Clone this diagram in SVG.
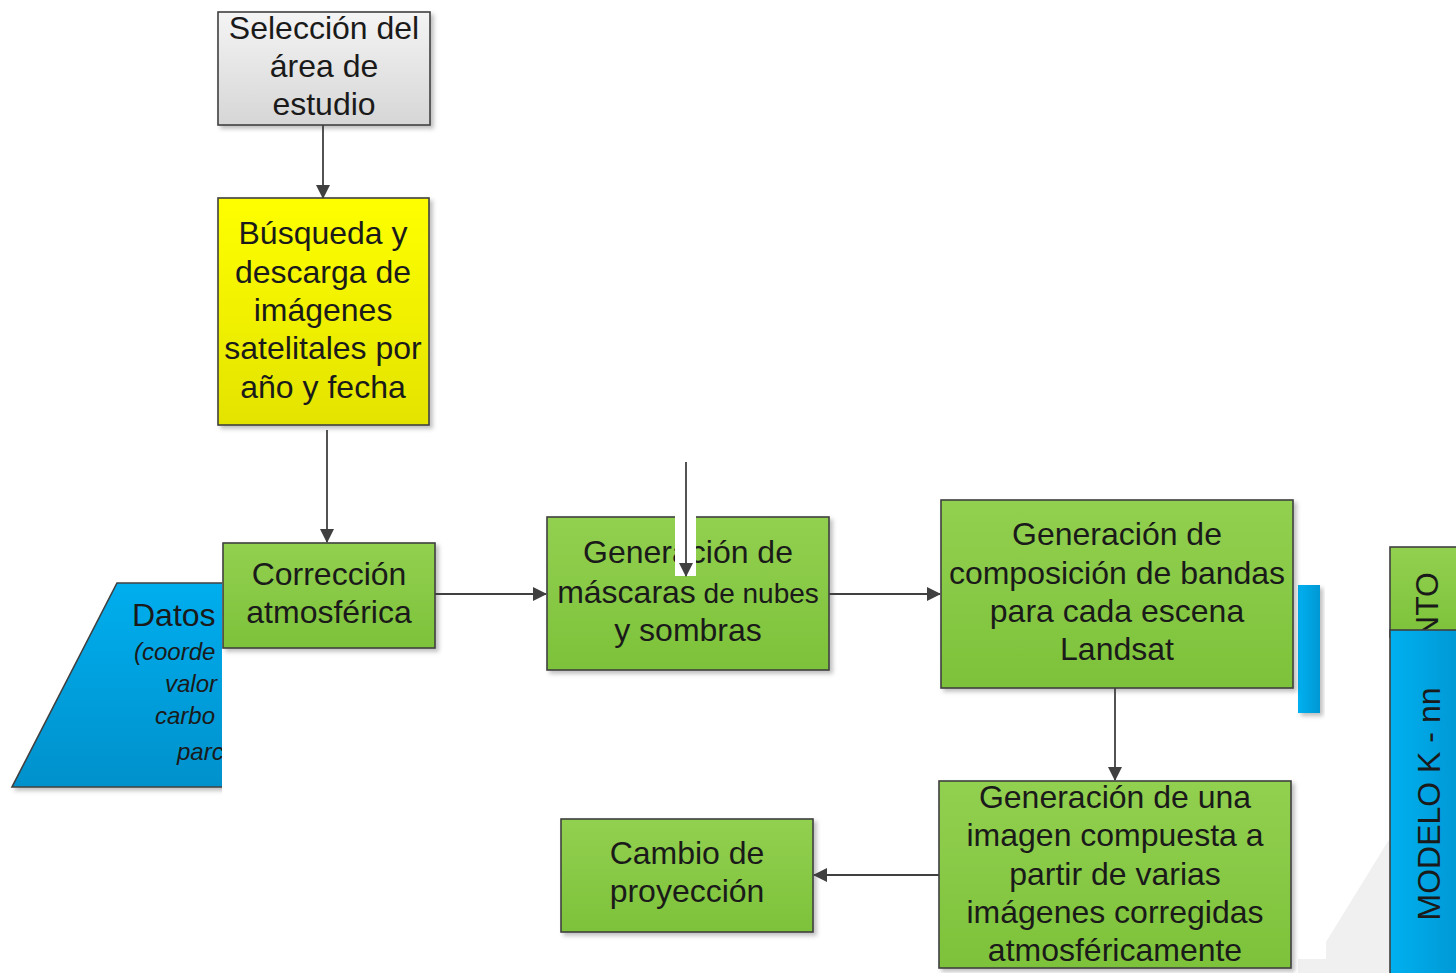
<svg xmlns="http://www.w3.org/2000/svg" width="1456" height="973" viewBox="0 0 1456 973">
<style>
.t{font-family:"Liberation Sans",Arial,sans-serif;font-size:32px;fill:#1a1a1a;text-anchor:middle}
.ti{font-family:"Liberation Sans",Arial,sans-serif;font-size:24px;font-style:italic;fill:#1a1a1a}
.b{stroke:#404040;stroke-width:1.6}
.c{stroke:#404040;stroke-width:1.8;fill:none;marker-end:url(#ah)}
</style>
<defs>
<linearGradient id="gG" x1="0" y1="0" x2="0" y2="1"><stop offset="0" stop-color="#92d050"/><stop offset="1" stop-color="#7dc23a"/></linearGradient>
<linearGradient id="gY" x1="0" y1="0" x2="0" y2="1"><stop offset="0" stop-color="#ffff00"/><stop offset="1" stop-color="#e3e300"/></linearGradient>
<linearGradient id="gS" x1="0" y1="0" x2="0" y2="1"><stop offset="0" stop-color="#f4f4f4"/><stop offset="1" stop-color="#d6d6d6"/></linearGradient>
<linearGradient id="gB" x1="0" y1="0" x2="0" y2="1"><stop offset="0" stop-color="#00aeee"/><stop offset="1" stop-color="#0091cc"/></linearGradient>
<linearGradient id="gBh" x1="0" y1="0" x2="1" y2="0"><stop offset="0" stop-color="#00b0f0"/><stop offset="1" stop-color="#0098d4"/></linearGradient>
<filter id="sh" x="-10%" y="-10%" width="130%" height="130%"><feDropShadow dx="3" dy="3" stdDeviation="2" flood-color="#000" flood-opacity="0.25"/></filter>
<marker id="ah" markerUnits="userSpaceOnUse" markerWidth="14" markerHeight="14" refX="13" refY="7" orient="auto"><path d="M0,0 L14,7 L0,14 z" fill="#404040"/></marker>
<clipPath id="cD"><rect x="0" y="560" width="222" height="240"/></clipPath>
</defs>
<rect width="1456" height="973" fill="#fff"/>
<polygon points="1390,838 1390,973 1298,973 1298,959 1326,959 1326,942" fill="#f0f0f0"/>
<g id="datos" clip-path="url(#cD)">
<polygon points="117,583 240,583 240,787 12,787" fill="url(#gB)" class="b" filter="url(#sh)"/>
<text x="132" y="626" class="t" style="text-anchor:start">Datos</text>
<text x="134" y="660" class="ti">(coorde</text>
<text x="165" y="692" class="ti">valor</text>
<text x="155" y="724" class="ti">carbo</text>
<text x="177" y="760" class="ti">parc</text>
</g>
<g id="seleccion">
<rect x="218" y="12" width="212" height="113" fill="url(#gS)" class="b" filter="url(#sh)"/>
<text class="t" x="324" y="39">Selección del</text>
<text class="t" x="324" y="77">área de</text>
<text class="t" x="324" y="115">estudio</text>
</g>
<g id="busqueda">
<rect x="218" y="198" width="211" height="227" fill="url(#gY)" class="b" filter="url(#sh)"/>
<text class="t" x="323" y="244">Búsqueda y</text>
<text class="t" x="323" y="283">descarga de</text>
<text class="t" x="323" y="321">imágenes</text>
<text class="t" x="323" y="359">satelitales por</text>
<text class="t" x="323" y="398">año y fecha</text>
</g>
<g id="correccion">
<rect x="223" y="543" width="212" height="105" fill="url(#gG)" class="b" filter="url(#sh)"/>
<text class="t" x="329" y="585">Corrección</text>
<text class="t" x="329" y="623">atmosférica</text>
</g>
<g id="mascaras">
<rect x="547" y="517" width="282" height="153" fill="url(#gG)" class="b" filter="url(#sh)"/>
<text class="t" x="688" y="563">Generación de</text>
<text class="t" x="688" y="603">máscaras<tspan style="font-size:28px"> de nubes</tspan></text>
<text class="t" x="688" y="641">y sombras</text>
<rect x="675" y="514" width="21" height="62" fill="#fff"/>
</g>
<g id="blue-mid">
<rect x="1298" y="585" width="22" height="128" fill="url(#gBh)" filter="url(#sh)"/>
</g>
<g id="composicion">
<rect x="941" y="500" width="352" height="188" fill="url(#gG)" class="b" filter="url(#sh)"/>
<text class="t" x="1117" y="545">Generación de</text>
<text class="t" x="1117" y="584">composición de bandas</text>
<text class="t" x="1117" y="622">para cada escena</text>
<text class="t" x="1117" y="660">Landsat</text>
</g>
<g id="compuesta">
<rect x="939" y="781" width="352" height="187" fill="url(#gG)" class="b" filter="url(#sh)"/>
<text class="t" x="1115" y="808">Generación de una</text>
<text class="t" x="1115" y="846">imagen compuesta a</text>
<text class="t" x="1115" y="885">partir de varias</text>
<text class="t" x="1115" y="923">imágenes corregidas</text>
<text class="t" x="1115" y="961">atmosféricamente</text>
</g>
<g id="cambio">
<rect x="561" y="819" width="252" height="113" fill="url(#gG)" class="b" filter="url(#sh)"/>
<text class="t" x="687" y="864">Cambio de</text>
<text class="t" x="687" y="902">proyección</text>
</g>
<g id="entrenamiento">
<rect x="1390" y="547" width="70" height="90" fill="url(#gG)" class="b"/>
<text class="t" style="text-anchor:end" transform="translate(1438,572) rotate(-90)">NTO</text>
</g>
<g id="modelo">
<rect x="1390" y="630" width="70" height="350" fill="url(#gBh)" class="b"/>
<text class="t" transform="translate(1440,804) rotate(-90)">MODELO K - nn</text>
</g>
<g id="connectors">
<line class="c" x1="323" y1="125" x2="323" y2="198"/>
<line class="c" x1="327" y1="430" x2="327" y2="542"/>
<line class="c" x1="435" y1="594" x2="546" y2="594"/>
<line class="c" x1="686" y1="462" x2="686" y2="576"/>
<line class="c" x1="829" y1="594" x2="940" y2="594"/>
<line class="c" x1="1115" y1="688" x2="1115" y2="780"/>
<line class="c" x1="939" y1="875" x2="814" y2="875"/>
</g>
</svg>
